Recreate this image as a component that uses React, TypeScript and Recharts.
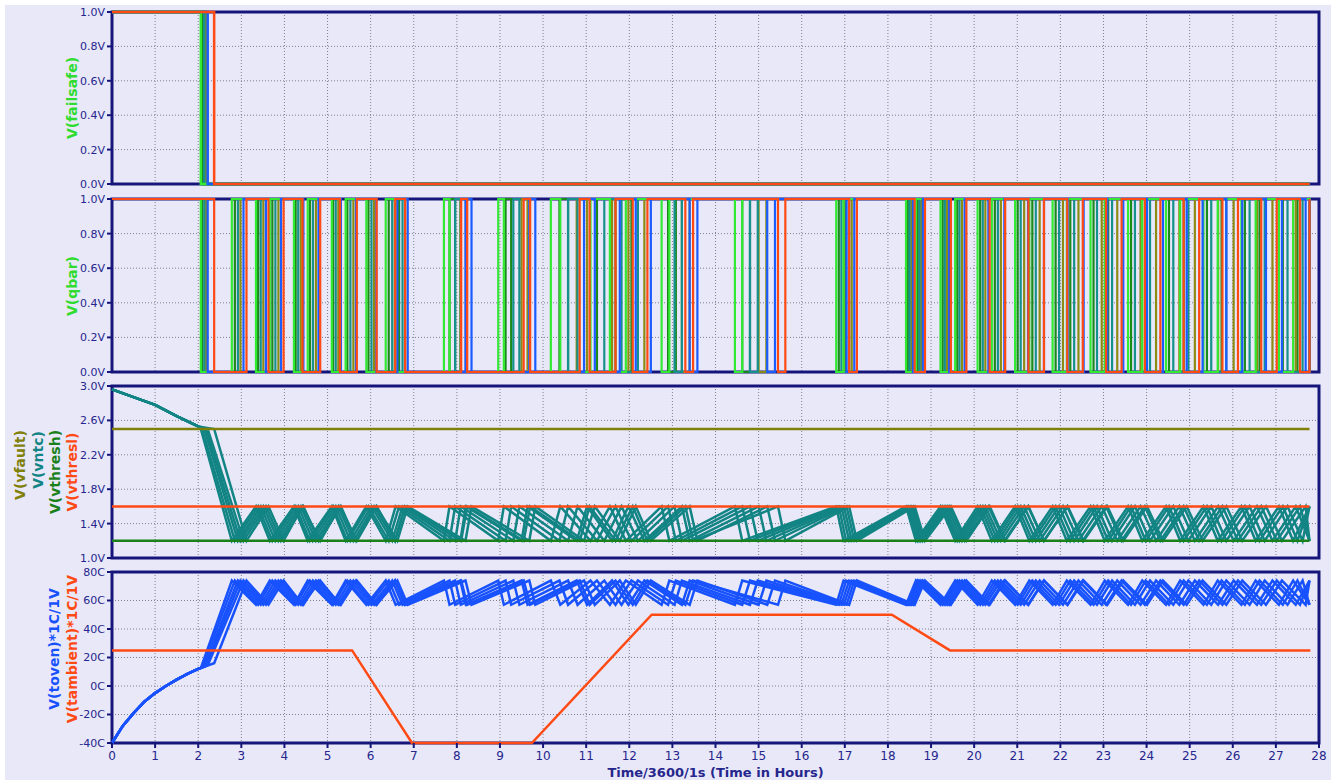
import React from 'react';
import { LineChart, Line, XAxis, YAxis, CartesianGrid, ReferenceArea } from 'recharts';

// x axis: hours
const HOURS = [0, 1, 2, 3, 4, 5, 6, 7, 8, 9, 10, 11, 12, 13, 14, 15, 16, 17, 18, 19, 20, 21, 22, 23, 24, 25, 26, 27, 28];
const END_T = 27.78;

const LOGIC_TICKS = [0, 0.2, 0.4, 0.6, 0.8, 1.0];
const NTC_TICKS = [1.0, 1.4, 1.8, 2.2, 2.6, 3.0];
const TEMP_TICKS = [-40, -20, 0, 20, 40, 60, 80];

// switching instants per stepped run: [heater on, peak, trough, peak, trough, ...]
const SW_GREEN = [2.06, 2.78, 3.34, 3.66, 4.22, 4.54, 5.10, 5.42, 5.90, 6.35, 6.58, 7.70, 7.83, 8.96, 9.09, 10.18, 10.40, 11.10, 11.55, 11.92, 12.75, 12.93, 14.45, 14.62, 16.80, 16.97, 18.42, 18.65, 19.22, 19.56, 20.08, 20.41, 20.95, 21.28, 21.82, 22.15, 22.70, 23.03, 23.57, 23.90, 24.45, 24.78, 25.32, 25.65, 26.20, 26.53, 27.07, 27.40, 27.78];
const SW_DKGREEN = [2.09, 2.85, 3.39, 3.72, 4.26, 4.59, 5.13, 5.46, 5.95, 6.42, 6.66, 7.83, 7.96, 9.13, 9.26, 10.38, 10.58, 11.25, 11.68, 12.05, 12.90, 13.08, 14.62, 14.80, 16.86, 17.03, 18.46, 18.69, 19.27, 19.61, 20.14, 20.48, 21.01, 21.35, 21.89, 22.23, 22.77, 23.11, 23.64, 23.98, 24.52, 24.86, 25.40, 25.74, 26.28, 26.62, 27.16, 27.50, 27.78];
const SW_TEAL = [2.14, 2.92, 3.45, 3.79, 4.32, 4.66, 5.19, 5.53, 6.02, 6.50, 6.74, 7.96, 8.09, 9.31, 9.45, 10.58, 10.80, 11.42, 11.82, 12.20, 13.05, 13.22, 14.80, 14.98, 16.92, 17.10, 18.50, 18.73, 19.32, 19.66, 20.20, 20.55, 21.08, 21.43, 21.97, 22.32, 22.85, 23.20, 23.73, 24.08, 24.62, 24.97, 25.50, 25.85, 26.39, 26.74, 27.27, 27.62, 27.78];
const SW_OLIVE = [2.18, 2.98, 3.51, 3.86, 4.38, 4.73, 5.25, 5.60, 6.08, 6.56, 6.80, 8.08, 8.21, 9.50, 9.64, 10.78, 11.02, 11.60, 11.98, 12.35, 13.22, 13.40, 15.00, 15.18, 16.98, 17.16, 18.54, 18.77, 19.37, 19.72, 20.26, 20.62, 21.16, 21.52, 22.06, 22.42, 22.96, 23.32, 23.86, 24.22, 24.76, 25.12, 25.66, 26.02, 26.56, 26.92, 27.46, 27.78];
const SW_BLUE = [2.22, 3.05, 3.57, 3.92, 4.44, 4.79, 5.31, 5.66, 6.13, 6.62, 6.86, 8.20, 8.34, 9.68, 9.82, 10.95, 11.20, 11.78, 12.15, 12.50, 13.40, 13.58, 15.20, 15.38, 17.04, 17.22, 18.58, 18.81, 19.42, 19.78, 20.33, 20.70, 21.25, 21.62, 22.17, 22.54, 23.09, 23.46, 24.01, 24.38, 24.93, 25.30, 25.85, 26.22, 26.77, 27.14, 27.69, 27.78];
const SW_RED = [2.37, 3.12, 3.63, 3.98, 4.42, 4.83, 5.29, 5.68, 6.14, 6.57, 6.80, 8.10, 8.24, 9.55, 9.70, 10.85, 11.08, 11.68, 12.08, 12.42, 13.30, 13.48, 15.45, 15.62, 17.10, 17.28, 18.62, 18.86, 19.46, 19.82, 20.36, 20.72, 21.26, 21.62, 22.16, 22.52, 23.06, 23.42, 23.96, 24.32, 24.86, 25.22, 25.76, 26.12, 26.66, 27.02, 27.56, 27.78];

// draw order: red ends up on top
const RUN_SWITCHES = [SW_DKGREEN, SW_OLIVE, SW_TEAL, SW_GREEN, SW_BLUE, SW_RED];
const OVEN_AT_START = [13, 14, 13.5, 12.5, 14.5, 16];

// warm-up before the heater kicks in
const OVEN_WARMUP = [[0, -40], [0.25, -28], [0.5, -19], [0.75, -11], [1, -5], [1.25, 0], [1.5, 4.5], [1.75, 8.5], [2.0, 12]];
const NTC_WARMUP = [[0, 2.96], [0.5, 2.87], [1, 2.78], [1.5, 2.65], [2.0, 2.53]];

const OVEN_PEAK = 74;
const OVEN_TROUGH = 57;
const VFAULT = 2.5;
const VTHRESL = 1.6;
const VTHRESH = 1.2;

const AMBIENT = [[0, 25], [5.57, 25], [6.96, -40], [9.74, -40], [12.52, 50], [18.09, 50], [19.44, 25], [27.8, 25]];

// styles
const RUN_COLORS = ['#1a8a1a', '#8c8c14', '#16908c', '#33ea33', '#1a5cff', '#ff4a14'];
const NAVY = '#16167a';
const TICK_TEXT = '#26268c';
const FONT = '"DejaVu Sans", Verdana, sans-serif';
const OVEN_BLUE = '#1852ff';
const NTC_TEAL = '#128484';
const RED = '#ff4a14';
const CHART_W = 1326;

type Pt = { t: number; v: number };

const pts = (rows: number[][]): Pt[] => rows.map(([t, v]) => ({ t, v }));

function failsafeSeries(sw: number[]): Pt[] {
  return [{ t: 0, v: 1 }, { t: sw[0], v: 0 }, { t: END_T, v: 0 }];
}

function qbarSeries(sw: number[]): Pt[] {
  return [{ t: 0, v: 1 }, ...sw.map((t, i) => ({ t, v: i % 2 === 0 ? 0 : 1 }))];
}

function ovenSeries(sw: number[], start: number): Pt[] {
  const warm = pts(OVEN_WARMUP).filter((p) => p.t < sw[0]);
  const swing = sw.slice(1).map((t, i) => ({ t, v: i % 2 === 0 ? OVEN_PEAK : OVEN_TROUGH }));
  return [...warm, { t: sw[0], v: start }, ...swing];
}

function ntcSeries(sw: number[]): Pt[] {
  const warm = pts(NTC_WARMUP).filter((p) => p.t < sw[0]);
  const swing = sw.slice(1).map((t, i) => ({ t, v: i % 2 === 0 ? VTHRESH : VTHRESL }));
  return [...warm, { t: sw[0], v: VFAULT }, ...swing];
}

const flat = (v: number): Pt[] => [{ t: 0, v }, { t: END_T, v }];

const volts = (v: number) => `${v.toFixed(1)}V`;
const degC = (v: number) => `${v}C`;

function Panel({ top, height, domain, ticks, fmt, xAxis, children }: any) {
  return (
    <div style={{ position: 'absolute', left: 0, top }}>
      <LineChart width={CHART_W} height={height} margin={{ top: 7, right: 12, bottom: xAxis ? 0 : 8, left: 47 }}>
        <CartesianGrid stroke="#80808c" strokeDasharray="1 2" />
        <XAxis
          type="number"
          dataKey="t"
          domain={[0, 28]}
          ticks={HOURS}
          interval={0}
          hide={!xAxis}
          height={xAxis ? 37 : 0}
          axisLine={false}
          tickLine={{ stroke: NAVY, strokeWidth: 2 }}
          tickSize={5}
          tickMargin={3}
          tick={{ fill: TICK_TEXT, fontSize: 12, fontFamily: FONT }}
          label={xAxis ? {
            value: 'Time/3600/1s (Time in Hours)',
            position: 'insideBottom',
            offset: 3,
            fill: TICK_TEXT,
            fontSize: 13,
            fontWeight: 'bold',
            fontFamily: FONT,
          } : undefined}
        />
        <YAxis
          type="number"
          domain={domain}
          ticks={ticks}
          interval={0}
          width={60}
          axisLine={false}
          tickLine={{ stroke: NAVY, strokeWidth: 2 }}
          tickSize={5}
          tickMargin={2}
          tick={{ fill: TICK_TEXT, fontSize: 11, fontFamily: FONT }}
          tickFormatter={fmt}
        />
        {children}
        <ReferenceArea x1={0} x2={28} y1={domain[0]} y2={domain[1]} fill="none" stroke={NAVY} strokeWidth={3} />
      </LineChart>
    </div>
  );
}

function trace(key: string, data: Pt[], color: string, width = 2, type: any = 'linear') {
  return (
    <Line
      key={key}
      data={data}
      dataKey="v"
      type={type}
      stroke={color}
      strokeWidth={width}
      dot={false}
      activeDot={false}
      isAnimationActive={false}
    />
  );
}

function Title({ x, y, color, text }: { x: number; y: number; color: string; text: string }) {
  return (
    <div
      style={{
        position: 'absolute',
        left: x,
        top: y,
        transform: 'translate(-50%, -50%) rotate(-90deg)',
        whiteSpace: 'nowrap',
        color,
        fontFamily: FONT,
        fontWeight: 'bold',
        fontSize: 14,
      }}
    >
      {text}
    </div>
  );
}

export default function App() {
  return (
    <div style={{ position: 'absolute', left: 5, top: 5, width: 1326, height: 775, background: '#e8e8f9', overflow: 'hidden' }}>
      <Panel top={0} height={187} domain={[0, 1]} ticks={LOGIC_TICKS} fmt={volts}>
        {RUN_SWITCHES.map((sw, i) => trace(`fs${i}`, failsafeSeries(sw), RUN_COLORS[i], 2.5, 'stepAfter'))}
      </Panel>

      <Panel top={187} height={188} domain={[0, 1]} ticks={LOGIC_TICKS} fmt={volts}>
        {RUN_SWITCHES.map((sw, i) => trace(`qb${i}`, qbarSeries(sw), RUN_COLORS[i], 2.2, 'stepAfter'))}
      </Panel>

      <Panel top={374} height={187} domain={[1, 3]} ticks={NTC_TICKS} fmt={volts}>
        {RUN_SWITCHES.map((sw, i) => trace(`ntc${i}`, ntcSeries(sw), NTC_TEAL, 2.5))}
        {trace('vfault', flat(VFAULT), '#80800a', 2.5)}
        {trace('vthresh', flat(VTHRESH), '#1a801a', 2.5)}
        {trace('vthresl', flat(VTHRESL), RED, 2.5)}
      </Panel>

      <Panel top={560} height={215} domain={[-40, 80]} ticks={TEMP_TICKS} fmt={degC} xAxis>
        {RUN_SWITCHES.map((sw, i) => trace(`ov${i}`, ovenSeries(sw, OVEN_AT_START[i]), OVEN_BLUE, 2.5))}
        {trace('amb', pts(AMBIENT), RED, 2.5)}
      </Panel>

      <Title x={67} y={93} color="#2fdc2f" text="V(failsafe)" />
      <Title x={67} y={281} color="#2fdc2f" text="V(qbar)" />
      <Title x={15} y={460} color="#80800a" text="V(vfault)" />
      <Title x={33} y={455} color={NTC_TEAL} text="V(vntc)" />
      <Title x={50} y={467} color="#1a801a" text="V(vthresh)" />
      <Title x={67} y={467} color={RED} text="V(vthresl)" />
      <Title x={49} y={644} color={OVEN_BLUE} text="V(toven)*1C/1V" />
      <Title x={67} y={644} color={RED} text="V(tambient)*1C/1V" />
    </div>
  );
}
